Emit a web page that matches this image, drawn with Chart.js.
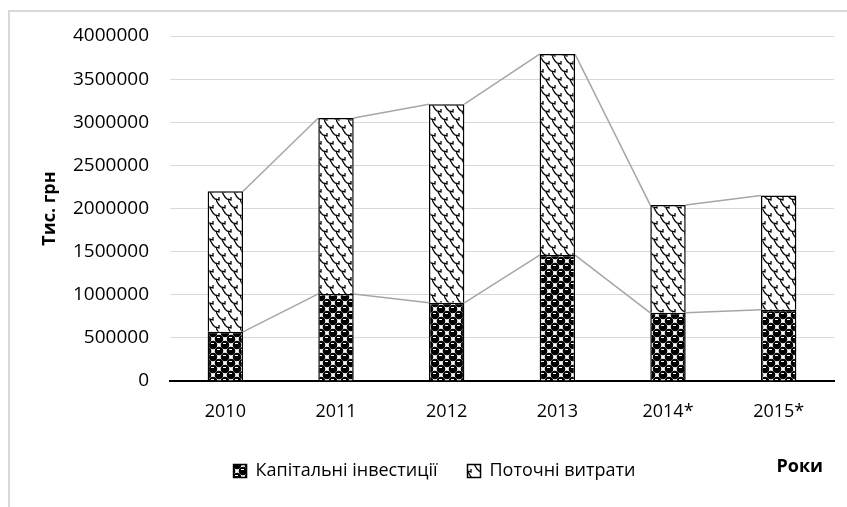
<!DOCTYPE html>
<html>
<head>
<meta charset="utf-8">
<script src="https://cdn.jsdelivr.net/npm/chart.js@4"></script>
<style>
  html, body { margin: 0; padding: 0; background: #fff; }
  #wrap { width: 847px; height: 507px; }
</style>
</head>
<body>
<div id="wrap"><canvas id="costChart" width="847" height="507"></canvas></div>
<script>
// Data
const years = ["2010", "2011", "2012", "2013", "2014*", "2015*"];
const capitalInvest = [570000, 1010000, 907000, 1460000, 790000, 826000];
const currentSpend = [1630000, 2040000, 2303000, 2330000, 1250000, 1324000];
const yMax = 4000000;
const yStep = 500000;

const FONT = "'Open Sans', 'Noto Sans', sans-serif";

// "spheres" fill for capital investments
function spherePattern() {
  const c = document.createElement("canvas");
  c.width = 12;
  c.height = 12;
  const g = c.getContext("2d");
  g.fillStyle = "#fff";
  g.fillRect(0, 0, 12, 12);
  [[3, 3], [9, 9], [15, 3], [-3, 9], [3, 15], [9, -3]].forEach(function (p) {
    g.fillStyle = "#000";
    g.beginPath();
    g.arc(p[0], p[1], 4.3, 0, Math.PI * 2);
    g.fill();
    g.fillStyle = "#fff";
    g.fillRect(p[0] - 2, p[1] - 2, 3, 1);
  });
  return g.createPattern(c, "repeat");
}

// "shingle" fill for current spending
function shinglePattern() {
  const c = document.createElement("canvas");
  c.width = 12;
  c.height = 16;
  const g = c.getContext("2d");
  g.fillStyle = "#fff";
  g.fillRect(0, 0, 12, 16);
  g.strokeStyle = "#000";
  g.lineWidth = 1.3;
  [[0, 0], [12, 0], [6, 8], [0, 16], [12, 16], [6, -8]].forEach(function (p) {
    g.beginPath();
    g.moveTo(p[0] - 6, p[1]);
    g.lineTo(p[0] - 3, p[1] + 5);
    g.lineTo(p[0] - 1, p[1] + 7);
    g.lineTo(p[0] + 3, p[1] + 8);
    g.lineTo(p[0] + 3, p[1] + 5);
    g.stroke();
  });
  return g.createPattern(c, "repeat");
}

// Excel-style series lines between the stacked bars
const seriesLines = {
  id: "seriesLines",
  beforeDatasetsDraw(chart) {
    const ctx = chart.ctx;
    ctx.save();
    ctx.strokeStyle = "#a6a6a6";
    ctx.lineWidth = 1.5;
    chart.data.datasets.forEach(function (ds, d) {
      const bars = chart.getDatasetMeta(d).data;
      for (let j = 0; j < bars.length - 1; j++) {
        const a = bars[j], b = bars[j + 1];
        ctx.beginPath();
        ctx.moveTo(a.x + a.width / 2, a.y);
        ctx.lineTo(b.x - b.width / 2, b.y);
        ctx.stroke();
      }
    });
    ctx.restore();
  },
};

// white background, chart frame and the "Роки" label
const frame = {
  id: "frame",
  beforeDraw(chart) {
    const ctx = chart.ctx;
    ctx.save();
    ctx.fillStyle = "#fff";
    ctx.fillRect(0, 0, chart.width, chart.height);
    ctx.strokeStyle = "#d9d9d9";
    ctx.lineWidth = 2;
    ctx.beginPath();
    ctx.moveTo(9, chart.height);
    ctx.lineTo(9, 11);
    ctx.lineTo(chart.width, 11);
    ctx.stroke();
    ctx.restore();
  },
  afterDraw(chart) {
    const ctx = chart.ctx;
    ctx.save();
    ctx.fillStyle = "#000";
    ctx.font = "bold 18px " + FONT;
    ctx.textAlign = "right";
    ctx.textBaseline = "middle";
    ctx.fillText("Роки", 823, 467);
    ctx.restore();
  },
};

document.addEventListener("DOMContentLoaded", function () {
  const ctx = document.getElementById("costChart").getContext("2d");

  new Chart(ctx, {
    type: "bar",
    data: {
      labels: years,
      datasets: [
        {
          label: "Капітальні інвестиції",
          data: capitalInvest,
          backgroundColor: spherePattern(),
          borderColor: "#000",
          borderWidth: 1.5,
        },
        {
          label: "Поточні витрати",
          data: currentSpend,
          backgroundColor: shinglePattern(),
          borderColor: "#000",
          borderWidth: 1.5,
        },
      ],
    },
    options: {
      responsive: false,
      animation: false,
      layout: { padding: { left: 35, right: 13, top: 36, bottom: 17 } },
      datasets: { bar: { categoryPercentage: 1, barPercentage: 0.32 } },
      plugins: {
        legend: {
          position: "bottom",
          labels: {
            color: "#000",
            font: { family: FONT, size: 18 },
            boxWidth: 13,
            boxHeight: 13,
            padding: 30,
          },
        },
        tooltip: { enabled: false },
      },
      scales: {
        x: {
          stacked: true,
          grid: { display: false },
          border: { color: "#000", width: 2 },
          ticks: { color: "#000", padding: 12, font: { family: FONT, size: 18 } },
          afterFit(scale) { scale.height = 51; },
        },
        y: {
          stacked: true,
          min: 0,
          max: yMax,
          grid: { color: "#d9d9d9", drawTicks: false },
          border: { display: false },
          ticks: {
            stepSize: yStep,
            color: "#000",
            padding: 21,
            font: { family: FONT, size: 19 },
            callback: function (v) { return String(v); },
          },
          title: {
            display: true,
            text: "Тис. грн",
            color: "#000",
            font: { family: FONT, size: 18, weight: "bold" },
          },
          afterFit(scale) { scale.width = 135; },
        },
      },
    },
    plugins: [frame, seriesLines],
  });
});
</script>
</body>
</html>
